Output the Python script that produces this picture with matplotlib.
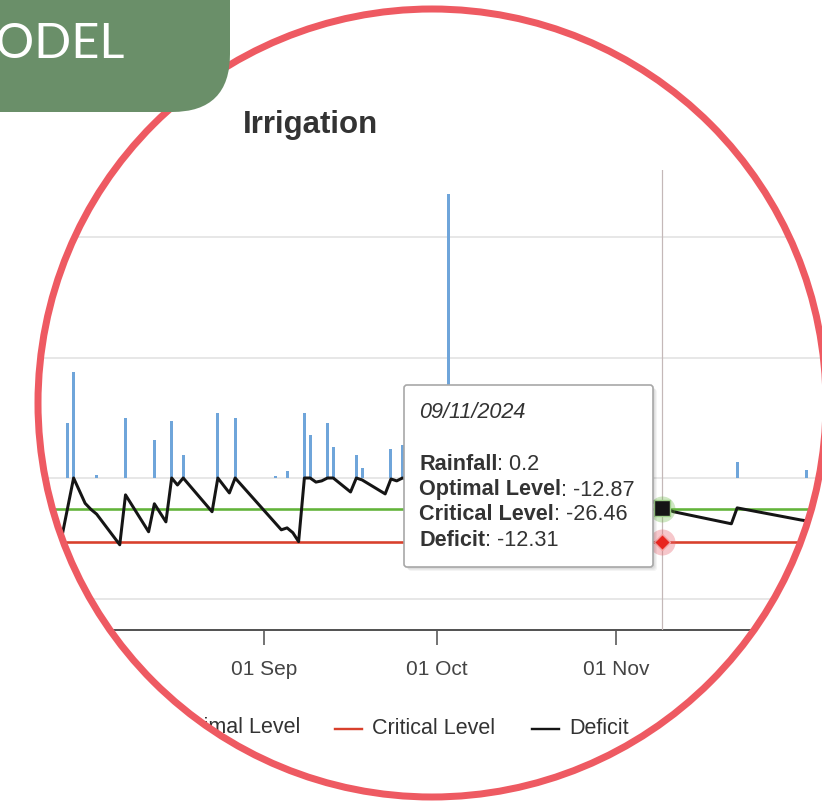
import numpy as np
import pandas as pd
import matplotlib
matplotlib.use('Agg')
import matplotlib.pyplot as plt
import matplotlib.dates as mdates
from matplotlib.patches import FancyBboxPatch, PathPatch, Circle
from matplotlib.path import Path

plt.rcParams['font.family'] = ['Liberation Sans', 'DejaVu Sans']

# ---- data ----
rain_dates = ['2024-07-29', '2024-07-30', '2024-08-03', '2024-08-08', '2024-08-13',
              '2024-08-16', '2024-08-18', '2024-08-24', '2024-08-27', '2024-09-03',
              '2024-09-05', '2024-09-08', '2024-09-09', '2024-09-12', '2024-09-13',
              '2024-09-17', '2024-09-18', '2024-09-23', '2024-09-25', '2024-10-03',
              '2024-11-09', '2024-11-22', '2024-12-04']
rain_mm = [22.7, 43.8, 1.2, 25.0, 15.7, 23.5, 9.5, 27.0, 25.0, 1.0,
           3.0, 27.0, 17.8, 23.0, 13.0, 9.5, 4.0, 12.0, 13.6, 117.8,
           0.2, 6.6, 3.3]

deficit_dates = ['2024-07-28', '2024-07-30', '2024-08-01', '2024-08-02', '2024-08-03',
                 '2024-08-07', '2024-08-08', '2024-08-12', '2024-08-13', '2024-08-15',
                 '2024-08-16', '2024-08-17', '2024-08-18', '2024-08-23', '2024-08-24',
                 '2024-08-26', '2024-08-27', '2024-09-04', '2024-09-05', '2024-09-06',
                 '2024-09-07', '2024-09-08', '2024-09-09', '2024-09-10', '2024-09-11',
                 '2024-09-12', '2024-09-13', '2024-09-16', '2024-09-17', '2024-09-18',
                 '2024-09-22', '2024-09-23', '2024-09-24', '2024-09-25', '2024-09-29',
                 '2024-10-03', '2024-10-11', '2024-10-13', '2024-10-23', '2024-10-25',
                 '2024-11-03', '2024-11-05', '2024-11-09', '2024-11-11', '2024-11-21',
                 '2024-11-22', '2024-12-03', '2024-12-06']
deficit = [-24.0, 0.0, -10.5, -13.0, -15.0,
           -27.7, -7.0, -22.3, -10.7, -18.2,
           0.0, -2.9, 0.0, -14.0, 0.0,
           -6.2, 0.0, -21.5, -20.7, -22.7,
           -26.4, 0.0, 0.0, -1.7, -1.2,
           0.0, 0.0, -5.8, 0.0, -0.8,
           -6.6, -0.4, -1.2, 0.0, -2.5,
           0.0, -5.0, 0.0, -7.0, -2.0,
           -9.0, -6.0, -12.31, -14.0, -19.0,
           -12.4, -17.4, -18.5]

optimal_level = -12.87
critical_level = -26.46
hover_date = '2024-11-09'
grid_levels = [-50, 0, 50, 100]
tick_dates = ['2024-08-01', '2024-09-01', '2024-10-01', '2024-11-01', '2024-12-01']

W, H = 822, 807
PT = 0.72  # points per pixel at dpi 100

fig = plt.figure(figsize=(W / 100, H / 100), dpi=100)
fig.patch.set_facecolor('white')

# plot area in screenshot pixels: y 170 (top) .. 630 (x axis)
ax = fig.add_axes([0, (H - 630) / H, 1, 460 / H])
origin = pd.Timestamp('2024-09-01')
px_day, origin_px = 5.77, 264


def px_to_date(x):
    return origin + pd.Timedelta(days=(x - origin_px) / px_day)


ax.set_xlim(px_to_date(0), px_to_date(W))
y0_px, px_unit = 478, 2.41
ax.set_ylim((y0_px - 630) / px_unit, (y0_px - 170) / px_unit)

ax.bar(pd.to_datetime(rain_dates), rain_mm, width=0.5, color='#6fa5da', zorder=2)
ax.axhline(optimal_level, color='#62b43a', lw=2.6 * PT, zorder=3)
ax.axhline(critical_level, color='#d8402c', lw=2.6 * PT, zorder=3)
ax.plot(pd.to_datetime(deficit_dates), deficit, color='#151515', lw=3.0 * PT, zorder=4)

hd = pd.Timestamp(hover_date)
ax.axvline(hd, color='#c4b8b8', lw=1.2 * PT, zorder=5)
ax.plot([hd], [optimal_level], 'o', ms=26 * PT, color='#62b43a', alpha=0.3, mec='none', zorder=6)
ax.plot([hd], [critical_level], 'o', ms=26 * PT, color='#e8606a', alpha=0.35, mec='none', zorder=6)
ax.plot([hd], [deficit[deficit_dates.index(hover_date)]], 's', ms=16 * PT, color='#151515',
        mec='#9fd08a', mew=1, zorder=7)
ax.plot([hd], [critical_level], 'D', ms=12 * PT, color='#e8251f', mec='#f2a0a0', mew=1, zorder=7)

ax.set_yticks(grid_levels)
ax.yaxis.grid(True, color='#e3e3e3', lw=1.2)
ax.set_axisbelow(True)
ax.tick_params(axis='y', length=0, labelleft=False)
ax.set_xticks(pd.to_datetime(tick_dates))
ax.xaxis.set_major_formatter(mdates.DateFormatter('%d %b'))
ax.tick_params(axis='x', length=15 * PT, width=1.6 * PT, color='#555555',
               labelsize=15, labelcolor='#444444', pad=11)
for s in ['top', 'left', 'right']:
    ax.spines[s].set_visible(False)
ax.spines['bottom'].set_color('#555555')
ax.spines['bottom'].set_linewidth(2 * PT)

# ---- overlay in screenshot pixels ----
ov = fig.add_axes([0, 0, 1, 1])
ov.set_xlim(0, W)
ov.set_ylim(H, 0)
ov.axis('off')
ov.patch.set_alpha(0)

ov.text(310, 125, 'Irrigation', fontsize=22.5, fontweight='bold', color='#333333',
        ha='center', va='center', zorder=5)

# tooltip
tx, ty, tw, th = 404, 385, 249, 182
for k in range(1, 5):
    ov.add_patch(FancyBboxPatch((tx + k, ty + k), tw, th, boxstyle='round,pad=0,rounding_size=3',
                                fc='black', ec='none', alpha=0.045, zorder=4))
ov.add_patch(FancyBboxPatch((tx, ty), tw, th, boxstyle='round,pad=0,rounding_size=3',
                            fc='white', ec='#a8a8a8', lw=1.2, zorder=5))
fs = 15.6
ov.text(419, 412, pd.Timestamp(hover_date).strftime('%d/%m/%Y'), fontsize=fs, style='italic',
        color='#333333', va='center', zorder=6)
rows = [('Rainfall', rain_mm[rain_dates.index(hover_date)]),
        ('Optimal Level', optimal_level),
        ('Critical Level', critical_level),
        ('Deficit', deficit[deficit_dates.index(hover_date)])]
renderer = fig.canvas.get_renderer()
for (lab, val), yy in zip(rows, [464, 490, 515, 541]):
    t = ov.text(419, yy, lab, fontsize=fs, fontweight='bold', color='#333333',
                va='center', zorder=6)
    w = t.get_window_extent(renderer=renderer).width
    ov.text(419 + w, yy, ': %g' % val, fontsize=fs, color='#333333', va='center', zorder=6)

# legend
ly = 728
legend_items = [('Optimal Level', '#62b43a', 169), ('Critical Level', '#d8402c', 372),
                ('Deficit', '#151515', 569)]
for lab, col, x in legend_items:
    ov.plot([x - 37, x - 10], [ly + 1, ly + 1], color=col, lw=2.4 * PT, zorder=5)
    ov.text(x, ly, lab, fontsize=15.5, color='#333333', va='center', ha='left', zorder=5)

# white mask outside the circle, then the red ring
cx, cy, r = 432, 403, 394
theta = -np.linspace(0, 2 * np.pi, 721)
outer = [(-60, -60), (W + 60, -60), (W + 60, H + 60), (-60, H + 60), (-60, -60)]
inner = list(zip(cx + r * np.cos(theta), cy + r * np.sin(theta)))
verts = outer + inner
codes = [Path.MOVETO] + [Path.LINETO] * 3 + [Path.CLOSEPOLY] + \
        [Path.MOVETO] + [Path.LINETO] * (len(inner) - 2) + [Path.CLOSEPOLY]
ov.add_patch(PathPatch(Path(verts, codes), fc='white', ec='none', zorder=10))
ov.add_patch(Circle((cx, cy), r, fill=False, ec='#ee5a62', lw=7 * PT, zorder=11))

# green tab in the corner (its label runs off the left edge, as in the source)
ov.add_patch(FancyBboxPatch((-200, -200), 430, 312, boxstyle='round,pad=0,rounding_size=58',
                            fc='#6a8f69', ec='none', zorder=12))
ov.text(125, 44, 'MODEL', fontsize=35, color='white', fontfamily='Lato', fontweight='normal',
        ha='right', va='center', zorder=13)

fig.savefig('out.png', dpi=100)
